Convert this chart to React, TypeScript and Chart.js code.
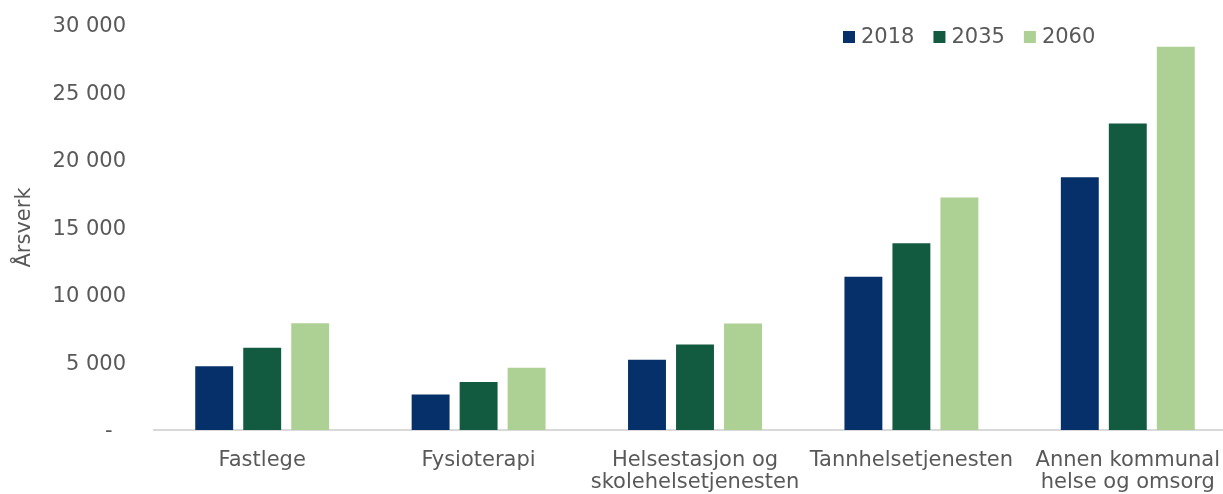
import React, { useEffect, useRef } from "react";
import { Chart, registerables } from "chart.js";

Chart.register(...registerables);

const categories: (string | string[])[] = [
  "Fastlege",
  "Fysioterapi",
  ["Helsestasjon og", "skolehelsetjenesten"],
  "Tannhelsetjenesten",
  ["Annen kommunal", "helse og omsorg"],
];
const seriesNames = ["2018", "2035", "2060"];
const values2018 = [4730, 2630, 5200, 11360, 18730];
const values2035 = [6100, 3550, 6340, 13830, 22710];
const values2060 = [7900, 4610, 7880, 17220, 28390];
const colors = ["#06306A", "#135B40", "#ADD094"];
const yMin = 0;
const yMax = 30000;
const yStep = 5000;
const yTitle = "Årsverk";

const FONT = "'DejaVu Sans', Verdana, sans-serif";
const TEXT = "#595959";

function fmt(v: number): string {
  if (v === 0) return "-\u00a0\u00a0";
  return String(v).replace(/\B(?=(\d{3})+(?!\d))/g, " ");
}

const legendPlugin = {
  id: "customLegend",
  afterDraw(chart: any) {
    const ctx = chart.ctx;
    ctx.save();
    ctx.font = `21px ${FONT}`;
    ctx.textBaseline = "alphabetic";
    ctx.textAlign = "left";
    let x = 843;
    chart.data.datasets.forEach((ds: any) => {
      ctx.fillStyle = ds.backgroundColor;
      ctx.fillRect(x, 31, 12, 12);
      ctx.fillStyle = TEXT;
      ctx.fillText(ds.label, x + 18, 43);
      x += 18 + ctx.measureText(ds.label).width + 19;
    });
    ctx.restore();
  },
};

export default function App() {
  const ref = useRef<HTMLCanvasElement | null>(null);
  useEffect(() => {
    if (!ref.current) return;
    Chart.defaults.font.family = FONT;
    const seriesValues = [values2018, values2035, values2060];
    const chart = new Chart(ref.current, {
      type: "bar",
      data: {
        labels: categories,
        datasets: seriesNames.map((name, i) => ({
          label: name,
          data: seriesValues[i],
          backgroundColor: colors[i],
          borderWidth: 0,
          categoryPercentage: 0.6654,
          barPercentage: 0.79,
        })),
      },
      options: {
        animation: false,
        responsive: false,
        maintainAspectRatio: false,
        layout: { padding: { left: 0, right: 14, top: 25, bottom: 0 } },
        plugins: {
          legend: { display: false },
          tooltip: { enabled: false },
        },
        scales: {
          x: {
            grid: { display: false, drawTicks: false },
            border: { display: true, color: "#D9D9D9", width: 2 },
            ticks: {
              color: TEXT,
              font: { size: 21, lineHeight: 1.07 },
              padding: 19,
              maxRotation: 0,
              autoSkip: false,
            },
            afterFit: (scale: any) => {
              scale.height = 64;
              scale.paddingLeft = 0;
              scale.paddingRight = 0;
            },
          },
          y: {
            min: yMin,
            max: yMax,
            grid: { display: false, drawTicks: false },
            border: { display: false },
            ticks: {
              stepSize: yStep,
              color: TEXT,
              font: { size: 21 },
              padding: 28,
              labelOffset: 2,
              callback: (v: any) => fmt(Number(v)),
            },
            title: {
              display: true,
              text: yTitle,
              color: TEXT,
              font: { size: 21 },
              padding: { top: 12, bottom: 0 },
            },
            afterFit: (scale: any) => {
              scale.width = 154;
              scale.paddingTop = 0;
              scale.paddingBottom = 0;
            },
          },
        },
      },
      plugins: [legendPlugin],
    });
    return () => chart.destroy();
  }, []);

  return (
    <div
      style={{
        position: "absolute",
        left: 0,
        top: 0,
        width: 1223,
        height: 494,
        overflow: "hidden",
        background: "#fff",
      }}
    >
      <canvas ref={ref} width={1250} height={494} style={{ display: "block" }} />
    </div>
  );
}
